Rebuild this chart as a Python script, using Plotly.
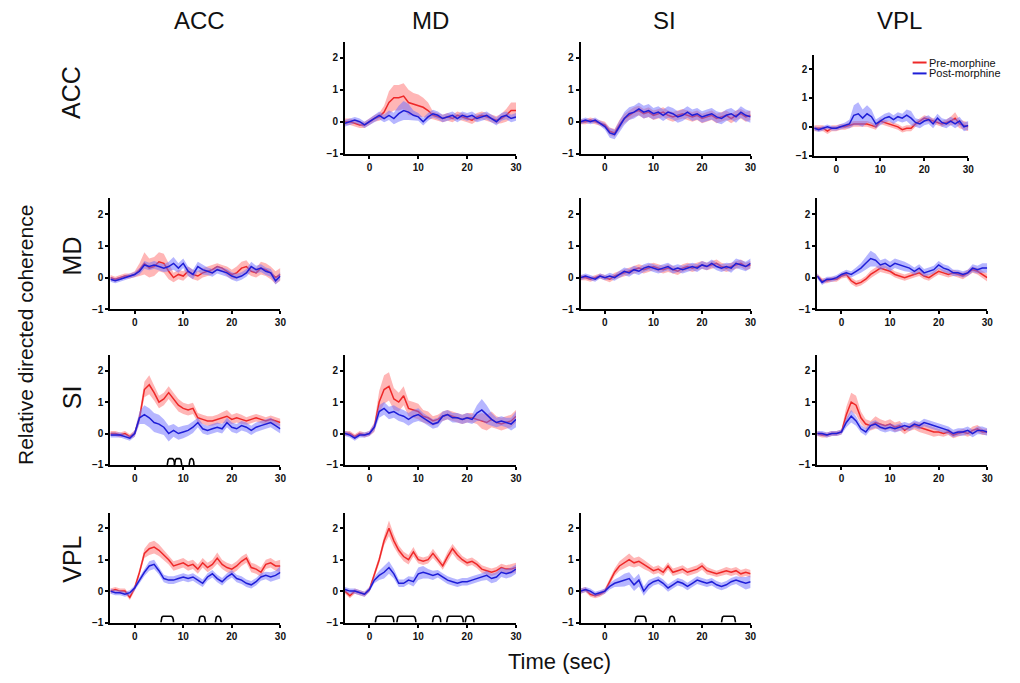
import plotly.graph_objects as go

# ---------------- data ----------------
REGIONS = ["ACC", "MD", "SI", "VPL"]
TIME = [-5, -4, -3, -2, -1, 0, 1, 2, 3, 4, 5, 6, 7, 8, 9, 10, 11, 12, 13, 14, 15,
        16, 17, 18, 19, 20, 21, 22, 23, 24, 25, 26, 27, 28, 29, 30]
X_TICKS = [0, 10, 20, 30]
Y_TICKS = [-1, 0, 1, 2]

# row ACC
ACC_MD_pre = [0.0, 0.0, -0.05, -0.1, -0.1, 0.0, 0.1, 0.15, 0.3, 0.6, 0.75, 0.75, 0.8, 0.6, 0.55, 0.5, 0.45, 0.35,
              0.2, 0.15, 0.1, 0.15, 0.1, 0.2, 0.15, 0.1, 0.05, 0.15, 0.2, 0.15, 0.1, 0.05, 0.1, 0.2, 0.35, 0.35]
ACC_MD_pre_sem = [0.1, 0.1, 0.1, 0.1, 0.1, 0.1, 0.1, 0.12, 0.2, 0.35, 0.4, 0.4, 0.4, 0.4, 0.35, 0.35, 0.3, 0.25,
                  0.12, 0.12, 0.12, 0.12, 0.12, 0.12, 0.12, 0.12, 0.12, 0.12, 0.12, 0.12, 0.12, 0.12, 0.15, 0.2, 0.25, 0.25]
ACC_MD_post = [-0.05, 0.0, 0.05, 0.0, -0.1, 0.0, 0.1, 0.2, 0.1, 0.2, 0.1, 0.25, 0.35, 0.3, 0.2, 0.15, 0.0, 0.15,
               0.25, 0.2, 0.1, 0.15, 0.2, 0.1, 0.2, 0.15, 0.2, 0.1, 0.15, 0.2, 0.1, 0.0, 0.15, 0.2, 0.1, 0.15]
ACC_MD_post_sem = [0.1, 0.1, 0.1, 0.1, 0.1, 0.1, 0.12, 0.12, 0.12, 0.15, 0.18, 0.25, 0.3, 0.25, 0.15, 0.12, 0.12, 0.12,
                   0.12, 0.12, 0.12, 0.12, 0.12, 0.12, 0.12, 0.12, 0.12, 0.12, 0.12, 0.12, 0.12, 0.12, 0.12, 0.12, 0.12, 0.12]

ACC_SI_pre = [0.0, 0.0, 0.05, 0.0, -0.05, -0.1, -0.3, -0.35, -0.1, 0.1, 0.2, 0.3, 0.35, 0.25, 0.3, 0.2, 0.25, 0.3,
              0.2, 0.15, 0.2, 0.25, 0.2, 0.15, 0.2, 0.1, 0.15, 0.2, 0.1, 0.15, 0.2, 0.1, 0.2, 0.25, 0.15, 0.2]
ACC_SI_pre_sem = [0.08, 0.08, 0.08, 0.08, 0.08, 0.1, 0.12, 0.12, 0.15, 0.15, 0.15, 0.15, 0.15, 0.15, 0.15, 0.15, 0.15, 0.15,
                  0.15, 0.15, 0.15, 0.15, 0.15, 0.15, 0.15, 0.15, 0.15, 0.15, 0.15, 0.15, 0.15, 0.15, 0.15, 0.15, 0.15, 0.15]
ACC_SI_post = [0.0, 0.05, 0.0, 0.05, -0.05, -0.15, -0.35, -0.4, -0.15, 0.1, 0.25, 0.3, 0.4, 0.3, 0.35, 0.25, 0.3, 0.2,
               0.3, 0.25, 0.15, 0.2, 0.3, 0.2, 0.25, 0.15, 0.2, 0.25, 0.15, 0.1, 0.2, 0.25, 0.15, 0.3, 0.2, 0.15]
ACC_SI_post_sem = [0.08, 0.08, 0.08, 0.08, 0.08, 0.1, 0.15, 0.15, 0.18, 0.2, 0.2, 0.2, 0.2, 0.2, 0.2, 0.18, 0.18, 0.18,
                   0.18, 0.18, 0.18, 0.18, 0.18, 0.18, 0.18, 0.18, 0.18, 0.18, 0.18, 0.18, 0.18, 0.18, 0.18, 0.18, 0.18, 0.18]

ACC_VPL_pre = [-0.05, -0.05, -0.05, -0.15, -0.05, -0.05, 0.0, 0.0, 0.05, 0.1, 0.1, 0.1, 0.1, 0.05, 0.0, 0.2, 0.15, 0.1,
               0.05, 0.0, -0.1, -0.05, -0.05, 0.1, 0.2, 0.3, 0.25, 0.2, 0.15, 0.1, 0.15, 0.2, 0.3, 0.1, 0.05, 0.0]
ACC_VPL_pre_sem = [0.1, 0.1, 0.1, 0.1, 0.1, 0.1, 0.1, 0.1, 0.1, 0.1, 0.1, 0.1, 0.1, 0.1, 0.1, 0.1, 0.1, 0.1,
                   0.1, 0.1, 0.1, 0.1, 0.1, 0.1, 0.1, 0.1, 0.1, 0.1, 0.1, 0.1, 0.1, 0.15, 0.2, 0.15, 0.15, 0.15]
ACC_VPL_post = [-0.05, -0.1, -0.05, 0.0, -0.05, -0.05, 0.0, 0.05, 0.1, 0.4, 0.45, 0.3, 0.45, 0.35, 0.1, 0.2, 0.3, 0.35,
                0.25, 0.35, 0.3, 0.4, 0.3, 0.15, 0.1, 0.2, 0.25, 0.1, 0.3, 0.15, 0.1, 0.2, 0.1, 0.2, 0.0, 0.05]
ACC_VPL_post_sem = [0.08, 0.08, 0.08, 0.08, 0.08, 0.08, 0.1, 0.1, 0.15, 0.35, 0.4, 0.3, 0.3, 0.25, 0.15, 0.15, 0.15, 0.15,
                    0.15, 0.15, 0.15, 0.2, 0.25, 0.15, 0.15, 0.15, 0.15, 0.15, 0.15, 0.15, 0.15, 0.15, 0.15, 0.15, 0.15, 0.15]

# row MD
MD_ACC_pre = [0.0, -0.05, 0.0, 0.05, 0.05, 0.1, 0.25, 0.45, 0.3, 0.35, 0.5, 0.45, 0.2, 0.0, 0.1, 0.05, 0.2, 0.1,
              0.05, 0.15, 0.2, 0.25, 0.35, 0.3, 0.2, 0.1, 0.15, 0.3, 0.35, 0.2, 0.15, 0.3, 0.25, 0.15, 0.0, 0.1]
MD_ACC_pre_sem = [0.08, 0.08, 0.08, 0.08, 0.08, 0.1, 0.2, 0.35, 0.3, 0.3, 0.3, 0.3, 0.25, 0.15, 0.15, 0.15, 0.15, 0.15,
                  0.15, 0.15, 0.15, 0.15, 0.1, 0.1, 0.15, 0.15, 0.2, 0.2, 0.2, 0.15, 0.15, 0.2, 0.2, 0.2, 0.2, 0.2]
MD_ACC_post = [-0.05, -0.1, -0.05, 0.0, 0.05, 0.1, 0.2, 0.4, 0.35, 0.4, 0.35, 0.3, 0.35, 0.45, 0.3, 0.45, 0.2, 0.1,
               0.35, 0.25, 0.2, 0.15, 0.25, 0.2, 0.15, 0.05, 0.0, 0.05, 0.15, 0.35, 0.25, 0.3, 0.2, 0.15, -0.1, 0.05]
MD_ACC_post_sem = [0.08, 0.08, 0.08, 0.08, 0.08, 0.08, 0.1, 0.12, 0.12, 0.12, 0.12, 0.12, 0.15, 0.2, 0.15, 0.15, 0.15, 0.15,
                   0.15, 0.15, 0.12, 0.12, 0.12, 0.12, 0.12, 0.12, 0.12, 0.12, 0.12, 0.15, 0.12, 0.12, 0.12, 0.12, 0.12, 0.12]

MD_SI_pre = [0.0, 0.0, -0.05, 0.0, 0.05, 0.0, -0.05, 0.05, 0.1, 0.15, 0.2, 0.25, 0.3, 0.25, 0.3, 0.35, 0.3, 0.25,
             0.3, 0.25, 0.2, 0.3, 0.35, 0.3, 0.35, 0.4, 0.35, 0.4, 0.45, 0.35, 0.3, 0.35, 0.4, 0.45, 0.35, 0.4]
MD_SI_pre_sem = [0.08, 0.08, 0.08, 0.08, 0.08, 0.08, 0.1, 0.1, 0.1, 0.12, 0.12, 0.12, 0.12, 0.12, 0.12, 0.12, 0.12, 0.12,
                 0.12, 0.12, 0.12, 0.12, 0.12, 0.12, 0.12, 0.12, 0.12, 0.12, 0.12, 0.12, 0.12, 0.12, 0.12, 0.12, 0.12, 0.12]
MD_SI_post = [0.0, 0.05, 0.0, -0.05, 0.05, 0.0, 0.05, 0.0, 0.1, 0.2, 0.15, 0.25, 0.2, 0.3, 0.35, 0.3, 0.25, 0.3,
              0.35, 0.25, 0.3, 0.25, 0.3, 0.35, 0.3, 0.4, 0.35, 0.45, 0.35, 0.3, 0.35, 0.3, 0.45, 0.4, 0.35, 0.45]
MD_SI_post_sem = [0.08, 0.08, 0.08, 0.08, 0.08, 0.08, 0.1, 0.1, 0.12, 0.12, 0.12, 0.12, 0.12, 0.12, 0.12, 0.12, 0.12, 0.12,
                  0.12, 0.12, 0.12, 0.12, 0.12, 0.12, 0.12, 0.12, 0.12, 0.12, 0.12, 0.12, 0.12, 0.15, 0.15, 0.15, 0.15, 0.15]

MD_VPL_pre = [0.05, -0.1, -0.1, -0.05, -0.05, 0.05, 0.1, -0.1, -0.2, -0.15, -0.05, 0.1, 0.2, 0.3, 0.25, 0.2, 0.1, 0.05,
              0.0, 0.05, 0.1, 0.15, 0.05, 0.0, 0.1, 0.2, 0.15, 0.1, 0.15, 0.1, 0.05, 0.15, 0.25, 0.2, 0.1, 0.0]
MD_VPL_pre_sem = [0.08, 0.08, 0.08, 0.08, 0.08, 0.08, 0.1, 0.1, 0.1, 0.1, 0.1, 0.12, 0.12, 0.12, 0.12, 0.1, 0.1, 0.1,
                  0.1, 0.1, 0.1, 0.1, 0.1, 0.1, 0.1, 0.1, 0.1, 0.1, 0.1, 0.1, 0.1, 0.1, 0.1, 0.1, 0.12, 0.12]
MD_VPL_post = [0.05, -0.15, -0.05, -0.05, 0.0, 0.1, 0.15, 0.1, 0.2, 0.3, 0.45, 0.6, 0.55, 0.4, 0.45, 0.35, 0.45, 0.4,
               0.35, 0.3, 0.2, 0.3, 0.15, 0.2, 0.25, 0.4, 0.3, 0.25, 0.15, 0.15, 0.1, 0.15, 0.3, 0.25, 0.3, 0.3]
MD_VPL_post_sem = [0.08, 0.08, 0.08, 0.08, 0.08, 0.08, 0.1, 0.1, 0.12, 0.15, 0.2, 0.25, 0.2, 0.15, 0.15, 0.15, 0.15, 0.15,
                   0.15, 0.12, 0.12, 0.12, 0.12, 0.12, 0.12, 0.12, 0.12, 0.12, 0.1, 0.1, 0.1, 0.1, 0.12, 0.12, 0.15, 0.15]

# row SI
SI_ACC_pre = [0.0, 0.0, -0.05, 0.0, -0.1, 0.0, 0.5, 1.4, 1.55, 1.3, 1.0, 1.1, 1.3, 1.1, 0.9, 0.8, 0.75, 0.8,
              0.5, 0.45, 0.4, 0.4, 0.45, 0.5, 0.55, 0.45, 0.5, 0.45, 0.4, 0.45, 0.5, 0.45, 0.4, 0.45, 0.4, 0.35]
SI_ACC_pre_sem = [0.08, 0.08, 0.08, 0.08, 0.08, 0.1, 0.15, 0.25, 0.3, 0.25, 0.2, 0.2, 0.2, 0.2, 0.2, 0.18, 0.18, 0.18,
                  0.15, 0.15, 0.15, 0.15, 0.15, 0.18, 0.2, 0.15, 0.15, 0.15, 0.12, 0.12, 0.12, 0.12, 0.12, 0.12, 0.12, 0.12]
SI_ACC_post = [-0.05, -0.05, -0.05, -0.1, -0.15, 0.0, 0.5, 0.6, 0.5, 0.35, 0.3, 0.2, 0.0, 0.1, 0.0, 0.05, 0.1, 0.2,
               0.35, 0.15, 0.1, 0.15, 0.2, 0.15, 0.35, 0.2, 0.15, 0.25, 0.2, 0.1, 0.2, 0.25, 0.3, 0.35, 0.25, 0.15]
SI_ACC_post_sem = [0.08, 0.08, 0.08, 0.08, 0.08, 0.1, 0.2, 0.3, 0.3, 0.3, 0.3, 0.25, 0.25, 0.2, 0.2, 0.2, 0.18, 0.18,
                   0.15, 0.15, 0.15, 0.15, 0.15, 0.15, 0.15, 0.15, 0.15, 0.15, 0.15, 0.15, 0.15, 0.15, 0.15, 0.15, 0.15, 0.15]

SI_MD_pre = [0.0, 0.0, -0.1, 0.0, -0.05, 0.0, 0.2, 1.0, 1.4, 1.5, 1.1, 1.0, 1.2, 0.8, 0.75, 0.7, 0.55, 0.5,
             0.4, 0.45, 0.55, 0.6, 0.55, 0.5, 0.45, 0.5, 0.5, 0.45, 0.4, 0.35, 0.45, 0.35, 0.3, 0.35, 0.4, 0.55]
SI_MD_pre_sem = [0.08, 0.08, 0.08, 0.08, 0.08, 0.08, 0.15, 0.35, 0.45, 0.45, 0.35, 0.3, 0.3, 0.25, 0.25, 0.25, 0.2, 0.2,
                 0.15, 0.15, 0.15, 0.15, 0.15, 0.15, 0.15, 0.15, 0.15, 0.15, 0.25, 0.25, 0.25, 0.2, 0.2, 0.2, 0.2, 0.2]
SI_MD_post = [0.0, -0.05, -0.15, -0.05, -0.05, 0.0, 0.2, 0.7, 0.8, 0.65, 0.7, 0.6, 0.55, 0.45, 0.55, 0.6, 0.5, 0.4,
              0.3, 0.35, 0.55, 0.6, 0.5, 0.5, 0.45, 0.5, 0.45, 0.65, 0.75, 0.6, 0.45, 0.35, 0.4, 0.35, 0.3, 0.45]
SI_MD_post_sem = [0.08, 0.08, 0.08, 0.08, 0.08, 0.08, 0.12, 0.2, 0.2, 0.2, 0.2, 0.2, 0.2, 0.2, 0.2, 0.2, 0.15, 0.15,
                  0.15, 0.15, 0.15, 0.15, 0.15, 0.15, 0.15, 0.15, 0.15, 0.25, 0.35, 0.3, 0.2, 0.15, 0.15, 0.15, 0.2, 0.25]

SI_VPL_pre = [0.0, -0.05, -0.05, 0.0, 0.0, 0.05, 0.6, 1.0, 0.9, 0.5, 0.3, 0.25, 0.35, 0.3, 0.25, 0.3, 0.2, 0.25,
              0.1, 0.2, 0.25, 0.2, 0.15, 0.1, 0.05, 0.05, 0.0, 0.05, -0.05, 0.0, 0.05, 0.0, 0.1, 0.15, 0.05, 0.05]
SI_VPL_pre_sem = [0.08, 0.08, 0.08, 0.08, 0.08, 0.08, 0.25, 0.3, 0.3, 0.2, 0.15, 0.15, 0.2, 0.15, 0.15, 0.15, 0.15, 0.15,
                  0.12, 0.12, 0.12, 0.15, 0.15, 0.15, 0.15, 0.12, 0.1, 0.1, 0.1, 0.1, 0.1, 0.1, 0.12, 0.12, 0.1, 0.1]
SI_VPL_post = [0.0, 0.0, -0.05, 0.0, 0.0, 0.05, 0.35, 0.55, 0.4, 0.15, 0.05, 0.25, 0.3, 0.2, 0.15, 0.2, 0.15, 0.2,
               0.25, 0.2, 0.3, 0.25, 0.35, 0.3, 0.25, 0.2, 0.15, 0.1, 0.0, 0.05, 0.05, 0.1, 0.0, 0.1, 0.1, 0.05]
SI_VPL_post_sem = [0.08, 0.08, 0.08, 0.08, 0.08, 0.08, 0.15, 0.2, 0.15, 0.12, 0.12, 0.12, 0.12, 0.12, 0.12, 0.12, 0.12, 0.12,
                   0.12, 0.12, 0.12, 0.12, 0.12, 0.12, 0.12, 0.12, 0.12, 0.12, 0.12, 0.12, 0.12, 0.12, 0.12, 0.12, 0.12, 0.12]

# row VPL
VPL_ACC_pre = [0.0, 0.05, 0.0, 0.0, -0.2, 0.1, 0.6, 1.2, 1.35, 1.4, 1.3, 1.15, 1.0, 0.8, 0.85, 0.9, 0.8, 0.85,
               0.7, 0.9, 0.75, 0.85, 1.05, 0.85, 0.75, 0.7, 0.8, 0.95, 1.05, 0.75, 0.7, 0.6, 0.85, 0.9, 0.8, 0.8]
VPL_ACC_pre_sem = [0.08, 0.08, 0.08, 0.08, 0.08, 0.1, 0.12, 0.15, 0.2, 0.2, 0.18, 0.15, 0.15, 0.15, 0.15, 0.15, 0.15, 0.15,
                   0.15, 0.15, 0.15, 0.15, 0.18, 0.15, 0.15, 0.15, 0.15, 0.15, 0.15, 0.15, 0.15, 0.15, 0.15, 0.15, 0.15, 0.2]
VPL_ACC_post = [0.0, -0.05, -0.05, -0.1, -0.05, 0.1, 0.35, 0.6, 0.8, 0.85, 0.65, 0.4, 0.35, 0.35, 0.4, 0.45, 0.4, 0.45,
                0.35, 0.25, 0.45, 0.55, 0.4, 0.3, 0.45, 0.55, 0.4, 0.35, 0.25, 0.2, 0.3, 0.45, 0.5, 0.45, 0.5, 0.6]
VPL_ACC_post_sem = [0.08, 0.08, 0.08, 0.08, 0.08, 0.08, 0.1, 0.12, 0.15, 0.15, 0.12, 0.12, 0.12, 0.12, 0.12, 0.12, 0.12, 0.12,
                    0.12, 0.12, 0.12, 0.12, 0.12, 0.12, 0.12, 0.12, 0.12, 0.12, 0.12, 0.12, 0.12, 0.12, 0.12, 0.15, 0.15, 0.2]

VPL_MD_pre = [0.0, -0.15, 0.0, -0.05, -0.1, 0.05, 0.5, 1.0, 1.6, 2.0, 1.6, 1.3, 1.1, 1.0, 1.25, 1.0, 0.95, 1.0,
              1.2, 1.0, 0.8, 1.1, 1.35, 1.15, 1.0, 0.9, 0.95, 0.85, 0.7, 0.65, 0.6, 0.65, 0.75, 0.7, 0.7, 0.75]
VPL_MD_pre_sem = [0.08, 0.08, 0.08, 0.08, 0.08, 0.08, 0.1, 0.12, 0.15, 0.25, 0.2, 0.15, 0.15, 0.15, 0.15, 0.12, 0.12, 0.12,
                  0.15, 0.12, 0.12, 0.15, 0.15, 0.15, 0.12, 0.12, 0.12, 0.12, 0.12, 0.12, 0.12, 0.12, 0.12, 0.12, 0.15, 0.15]
VPL_MD_post = [0.05, 0.0, 0.0, -0.05, -0.1, 0.05, 0.35, 0.5, 0.6, 0.75, 0.55, 0.25, 0.25, 0.35, 0.3, 0.55, 0.6, 0.55,
               0.5, 0.55, 0.45, 0.35, 0.3, 0.25, 0.3, 0.3, 0.35, 0.4, 0.45, 0.5, 0.4, 0.45, 0.6, 0.55, 0.6, 0.7]
VPL_MD_post_sem = [0.08, 0.08, 0.08, 0.08, 0.08, 0.08, 0.1, 0.15, 0.2, 0.2, 0.15, 0.12, 0.12, 0.12, 0.15, 0.2, 0.2, 0.15,
                   0.15, 0.12, 0.12, 0.12, 0.12, 0.12, 0.12, 0.12, 0.12, 0.12, 0.12, 0.15, 0.15, 0.15, 0.15, 0.15, 0.15, 0.15]

VPL_SI_pre = [0.0, 0.05, -0.1, -0.15, -0.1, 0.0, 0.3, 0.6, 0.8, 0.9, 1.0, 0.9, 0.95, 0.85, 0.75, 0.65, 0.7, 0.6,
              0.8, 0.6, 0.65, 0.7, 0.6, 0.65, 0.7, 0.8, 0.65, 0.6, 0.55, 0.6, 0.65, 0.6, 0.65, 0.55, 0.6, 0.55]
VPL_SI_pre_sem = [0.08, 0.08, 0.08, 0.08, 0.08, 0.08, 0.1, 0.12, 0.15, 0.18, 0.2, 0.15, 0.15, 0.15, 0.12, 0.12, 0.12, 0.12,
                  0.12, 0.12, 0.12, 0.12, 0.12, 0.12, 0.12, 0.12, 0.12, 0.1, 0.1, 0.1, 0.12, 0.12, 0.12, 0.12, 0.12, 0.12]
VPL_SI_post = [0.0, 0.05, 0.0, -0.1, -0.05, 0.0, 0.15, 0.25, 0.3, 0.35, 0.4, 0.2, 0.35, 0.0, 0.2, 0.3, 0.35, 0.25,
               0.1, 0.2, 0.3, 0.25, 0.15, 0.25, 0.35, 0.3, 0.25, 0.3, 0.2, 0.15, 0.2, 0.3, 0.35, 0.3, 0.25, 0.3]
VPL_SI_post_sem = [0.08, 0.08, 0.08, 0.08, 0.08, 0.08, 0.1, 0.12, 0.15, 0.2, 0.2, 0.2, 0.2, 0.15, 0.15, 0.12, 0.12, 0.12,
                   0.12, 0.12, 0.12, 0.12, 0.12, 0.12, 0.12, 0.12, 0.12, 0.12, 0.12, 0.12, 0.12, 0.12, 0.12, 0.15, 0.2, 0.2]

# significant-difference intervals (sec), drawn as bumps on the time axis
SI_ACC_sig = [[6.7, 8.2], [8.2, 9.7], [11.2, 12.2]]
VPL_ACC_sig = [[5.4, 8.0], [13.2, 14.6], [16.6, 17.8]]
VPL_MD_sig = [[1.2, 5.0], [5.6, 9.5], [12.9, 14.6], [15.8, 19.2], [19.6, 21.4]]
VPL_SI_sig = [[6.2, 8.5], [13.2, 14.4], [24.0, 26.9]]

PANELS = {
    ("ACC", "MD"): (ACC_MD_pre, ACC_MD_pre_sem, ACC_MD_post, ACC_MD_post_sem, []),
    ("ACC", "SI"): (ACC_SI_pre, ACC_SI_pre_sem, ACC_SI_post, ACC_SI_post_sem, []),
    ("ACC", "VPL"): (ACC_VPL_pre, ACC_VPL_pre_sem, ACC_VPL_post, ACC_VPL_post_sem, []),
    ("MD", "ACC"): (MD_ACC_pre, MD_ACC_pre_sem, MD_ACC_post, MD_ACC_post_sem, []),
    ("MD", "SI"): (MD_SI_pre, MD_SI_pre_sem, MD_SI_post, MD_SI_post_sem, []),
    ("MD", "VPL"): (MD_VPL_pre, MD_VPL_pre_sem, MD_VPL_post, MD_VPL_post_sem, []),
    ("SI", "ACC"): (SI_ACC_pre, SI_ACC_pre_sem, SI_ACC_post, SI_ACC_post_sem, SI_ACC_sig),
    ("SI", "MD"): (SI_MD_pre, SI_MD_pre_sem, SI_MD_post, SI_MD_post_sem, []),
    ("SI", "VPL"): (SI_VPL_pre, SI_VPL_pre_sem, SI_VPL_post, SI_VPL_post_sem, []),
    ("VPL", "ACC"): (VPL_ACC_pre, VPL_ACC_pre_sem, VPL_ACC_post, VPL_ACC_post_sem, VPL_ACC_sig),
    ("VPL", "MD"): (VPL_MD_pre, VPL_MD_pre_sem, VPL_MD_post, VPL_MD_post_sem, VPL_MD_sig),
    ("VPL", "SI"): (VPL_SI_pre, VPL_SI_pre_sem, VPL_SI_post, VPL_SI_post_sem, VPL_SI_sig),
}

# ---------------- layout geometry (screen pixels) ----------------
W, H = 1020, 683
PAGE_MARGIN = 8  # default <body> margin of the html page shifts the figure
COL_PX = {"ACC": (111, 282), "MD": (347, 519), "SI": (584, 755), "VPL": (822, 993)}
ROW_PX = {"ACC": (42, 155), "MD": (200, 312), "SI": (358, 469), "VPL": (517, 628)}
SPECIAL = {("ACC", "VPL"): ((819, 974), (55, 157))}


def fx(px):
    return (px - PAGE_MARGIN) / W


def fy(py):
    return 1 - (py - PAGE_MARGIN) / H


RED_LINE = "rgb(238,40,40)"
RED_BAND = "rgba(255,110,110,0.5)"
BLUE_LINE = "rgb(30,30,215)"
BLUE_BAND = "rgba(110,110,255,0.5)"
FONT = "Liberation Sans, Arial, sans-serif"

fig = go.Figure()
layout = dict(
    width=W, height=H, margin=dict(l=0, r=0, t=0, b=0),
    paper_bgcolor="white", plot_bgcolor="white", showlegend=False,
    font=dict(family=FONT, color="#111"),
)


def band(x, m, s):
    up = [a + b for a, b in zip(m, s)]
    lo = [a - b for a, b in zip(m, s)]
    return x + x[::-1], up + lo[::-1]


for i, ((r, c), (pre, pre_s, post, post_s, sig)) in enumerate(PANELS.items(), start=1):
    for arr in (pre, pre_s, post, post_s):
        assert len(arr) == len(TIME), (r, c)
    (x0, x1), (y0, y1) = SPECIAL.get((r, c), (COL_PX[c], ROW_PX[r]))
    xa, ya = f"x{i}", f"y{i}"
    ax_common = dict(showgrid=False, zeroline=False, showline=True, linecolor="black", linewidth=2,
                     ticks="outside", ticklen=3, tickwidth=1.5, tickcolor="black",
                     tickfont=dict(size=10, family=FONT, color="#111", weight="bold"), fixedrange=True)
    layout[f"xaxis{i}"] = dict(domain=[fx(x0), fx(x1)], anchor=ya, range=[-5, 30],
                               tickvals=X_TICKS, **ax_common)
    layout[f"yaxis{i}"] = dict(domain=[fy(y1), fy(y0)], anchor=xa, range=[-1, 2.5],
                               tickvals=Y_TICKS, **ax_common)
    bx, by = band(TIME, pre, pre_s)
    fig.add_trace(go.Scatter(x=bx, y=by, fill="toself", fillcolor=RED_BAND, line=dict(width=0),
                             mode="lines", hoverinfo="skip", xaxis=xa, yaxis=ya))
    fig.add_trace(go.Scatter(x=TIME, y=pre, mode="lines", line=dict(color=RED_LINE, width=1.5),
                             name="Pre-morphine", xaxis=xa, yaxis=ya))
    bx, by = band(TIME, post, post_s)
    fig.add_trace(go.Scatter(x=bx, y=by, fill="toself", fillcolor=BLUE_BAND, line=dict(width=0),
                             mode="lines", hoverinfo="skip", xaxis=xa, yaxis=ya))
    fig.add_trace(go.Scatter(x=TIME, y=post, mode="lines", line=dict(color=BLUE_LINE, width=1.5),
                             name="Post-morphine", xaxis=xa, yaxis=ya))
    if sig:
        sx, sy = [], []
        for a, b in sig:
            sx += [a, a + 0.05, a + 0.2, a + 0.45, b - 0.45, b - 0.2, b - 0.05, b, None]
            sy += [-1, -0.9, -0.83, -0.8, -0.8, -0.83, -0.9, -1, None]
        fig.add_trace(go.Scatter(x=sx, y=sy, mode="lines", line=dict(color="black", width=1.6),
                                 hoverinfo="skip", xaxis=xa, yaxis=ya, cliponaxis=False))

annotations = []
# column titles
COL_TITLE_X = {"ACC": 201, "MD": 433, "SI": 668, "VPL": 905}
for name in REGIONS:
    annotations.append(dict(text=name, x=fx(COL_TITLE_X[name]), y=fy(21), xref="paper", yref="paper",
                            showarrow=False, font=dict(size=24, family=FONT, color="#111"),
                            xanchor="center", yanchor="middle"))
# row titles
ROW_TITLE_Y = {"ACC": 93, "MD": 258, "SI": 401, "VPL": 564}
for name in REGIONS:
    annotations.append(dict(text=name, x=fx(72), y=fy(ROW_TITLE_Y[name]), xref="paper", yref="paper",
                            showarrow=False, textangle=-90, font=dict(size=25, family=FONT, color="#111"),
                            xanchor="center", yanchor="middle"))
annotations.append(dict(text="Relative directed coherence", x=fx(25), y=fy(338), xref="paper", yref="paper",
                        showarrow=False, textangle=-90, font=dict(size=21, family=FONT, color="#111"),
                        xanchor="center", yanchor="middle"))
annotations.append(dict(text="Time (sec)", x=fx(563), y=fy(667), xref="paper", yref="paper",
                        showarrow=False, font=dict(size=22, family=FONT, color="#111"),
                        xanchor="center", yanchor="middle"))
# legend (manual, compact as in the original)
LEGEND = [("Pre-morphine", RED_LINE, 63), ("Post-morphine", BLUE_LINE, 74)]
shapes = []
for label, col, ypx in LEGEND:
    shapes.append(dict(type="line", xref="paper", yref="paper", x0=fx(918), x1=fx(932),
                       y0=fy(ypx), y1=fy(ypx), line=dict(color=col, width=2)))
    annotations.append(dict(text=label, x=fx(932), y=fy(ypx), xref="paper", yref="paper",
                            showarrow=False, font=dict(size=11, family=FONT, color="#111"),
                            xanchor="left", yanchor="middle"))

layout["annotations"] = annotations
layout["shapes"] = shapes
fig.update_layout(**layout)
fig.write_html("out.html")
